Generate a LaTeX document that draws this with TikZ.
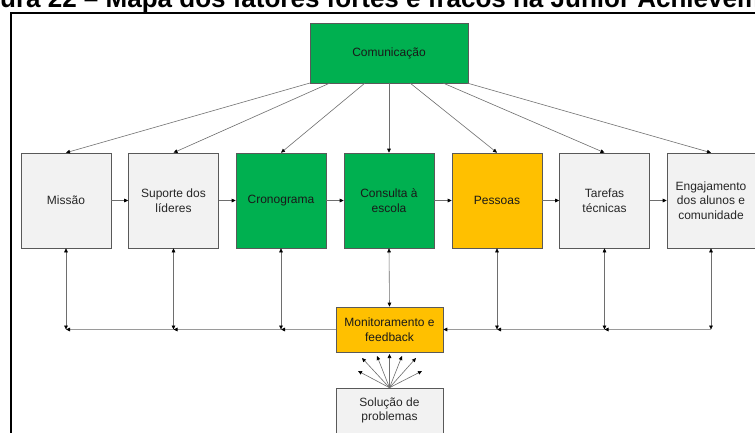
\documentclass[tikz,border=0pt]{standalone}
\usepackage{fontspec}
\setmainfont{Liberation Sans}
\usetikzlibrary{arrows.meta}
\definecolor{ogreen}{HTML}{00B050}
\definecolor{oorange}{HTML}{FFC000}
\definecolor{ogray}{HTML}{F2F2F2}
\definecolor{bord}{HTML}{595959}
\definecolor{txt}{HTML}{262626}
\definecolor{lin}{HTML}{6E6E6E}
\definecolor{linlight}{HTML}{9A9A9A}
\begin{document}
\begin{tikzpicture}[x=1pt,y=-1pt,
  box/.style={draw=bord, line width=0.6pt, minimum width=90pt, minimum height=95pt, inner sep=0pt, align=center, font=\fontsize{12}{14.5}\selectfont, text=txt},
  graybox/.style={box, fill=ogray},
  greenbox/.style={box, fill=ogreen, text=black!90},
  orangebox/.style={box, fill=oorange, text=black!90},
  tip/.style={Triangle[length=4pt,width=3.6pt,color=black]},
  arr/.style={draw=lin, line width=0.6pt, -{Triangle[length=4pt,width=3.6pt,color=black]}},
  darr/.style={draw=lin, line width=0.6pt, {Triangle[length=4pt,width=3.6pt,color=black]}-{Triangle[length=4pt,width=3.6pt,color=black]}},
  harr/.style={draw=linlight, line width=0.8pt, -{Triangle[length=4pt,width=3.6pt,color=black]}},
]
\useasboundingbox (0,0) rectangle (755,432);
\clip (0,0) rectangle (755,432);
\fill[white] (0,0) rectangle (755,432);

% title (cut off at top)
\node[anchor=base west, inner sep=0pt, font=\fontsize{26}{30}\selectfont\bfseries] (title) at (-39,7.5) {Figura 22 -- Mapa dos fatores fortes e fracos na Junior Achievement};

% frame
\draw[line width=1.6pt, black] (11,440) -- (11,13) -- (770,13);

% top box
\node[greenbox, minimum width=158pt, minimum height=60pt] (com) at (389,53) {Comunicação};

% row
\node[graybox] (mis) at (66,200.5) {Missão};
\node[graybox] (sup) at (173.5,200.5) {Suporte dos\\líderes};
\node[greenbox] (cro) at (281,200.5) {Cronograma};
\node[greenbox] (con) at (389,200.5) {Consulta à\\escola};
\node[orangebox] (pes) at (497,200.5) {Pessoas};
\node[graybox] (tar) at (604.5,200.5) {Tarefas\\técnicas};
\node[graybox, minimum width=88pt] (eng) at (711,200.5) {Engajamento\\dos alunos e\\comunidade};

% monitoring and problem solving
\node[orangebox, minimum width=107pt, minimum height=45pt] (mon) at (389.5,329.5) {Monitoramento e\\feedback};
\node[graybox, minimum width=107pt, minimum height=45pt] (sol) at (389.5,410.5) {Solução de\\problemas};

% arrows from Comunicação
\coordinate (c1) at (310,83);
\coordinate (c2) at (330,83);
\coordinate (c3) at (365,83);
\coordinate (c4) at (389,83);
\coordinate (c5) at (410,83);
\coordinate (c6) at (443,83);
\coordinate (c7) at (467,83);
\draw[arr] (c1) -- (mis.north);
\draw[arr] (c2) -- (sup.north);
\draw[arr] (c3) -- (cro.north);
\draw[arr] (c4) -- (con.north);
\draw[arr] (c5) -- (pes.north);
\draw[arr] (c6) -- (tar.north);
\draw[arr] (c7) -- (eng.north);

% row arrows
\draw[arr] (mis.east) -- (sup.west);
\draw[arr] (sup.east) -- (cro.west);
\draw[arr] (cro.east) -- (con.west);
\draw[arr] (con.east) -- (pes.west);
\draw[arr] (pes.east) -- (tar.west);
\draw[arr] (tar.east) -- (eng.west);

% feedback line
\coordinate (k1) at (mis.south |- mon.west);
\coordinate (k2) at (sup.south |- mon.west);
\coordinate (k3) at (cro.south |- mon.west);
\coordinate (k5) at (pes.south |- mon.west);
\coordinate (k6) at (tar.south |- mon.west);
\coordinate (k7) at (eng.south |- mon.west);
\draw[harr] (mon.west) -- (k3);
\draw[harr] (k3) -- (k2);
\draw[harr] (k2) -- (k1);
\draw[harr] (k7) -- (k6);
\draw[harr] (k6) -- (k5);
\draw[harr] (k5) -- (mon.east);
\draw[darr] (mis.south) -- (k1);
\draw[darr] (sup.south) -- (k2);
\draw[darr] (cro.south) -- (k3);
\draw[darr] (con.south) -- (mon.north);
\draw[darr] (pes.south) -- (k5);
\draw[darr] (tar.south) -- (k6);
\draw[darr] (eng.south) -- (k7);

% fan from Solução
\coordinate (f1) at (358,371);
\coordinate (f2) at (362,358);
\coordinate (f3) at (377,356);
\coordinate (f4) at (389.5,354);
\coordinate (f5) at (402,356);
\coordinate (f6) at (416,358);
\coordinate (f7) at (422,371);
\foreach \f in {f1,f2,f3,f4,f5,f6,f7}
  \draw[arr] (sol.north) -- (\f);
\end{tikzpicture}
\end{document}
